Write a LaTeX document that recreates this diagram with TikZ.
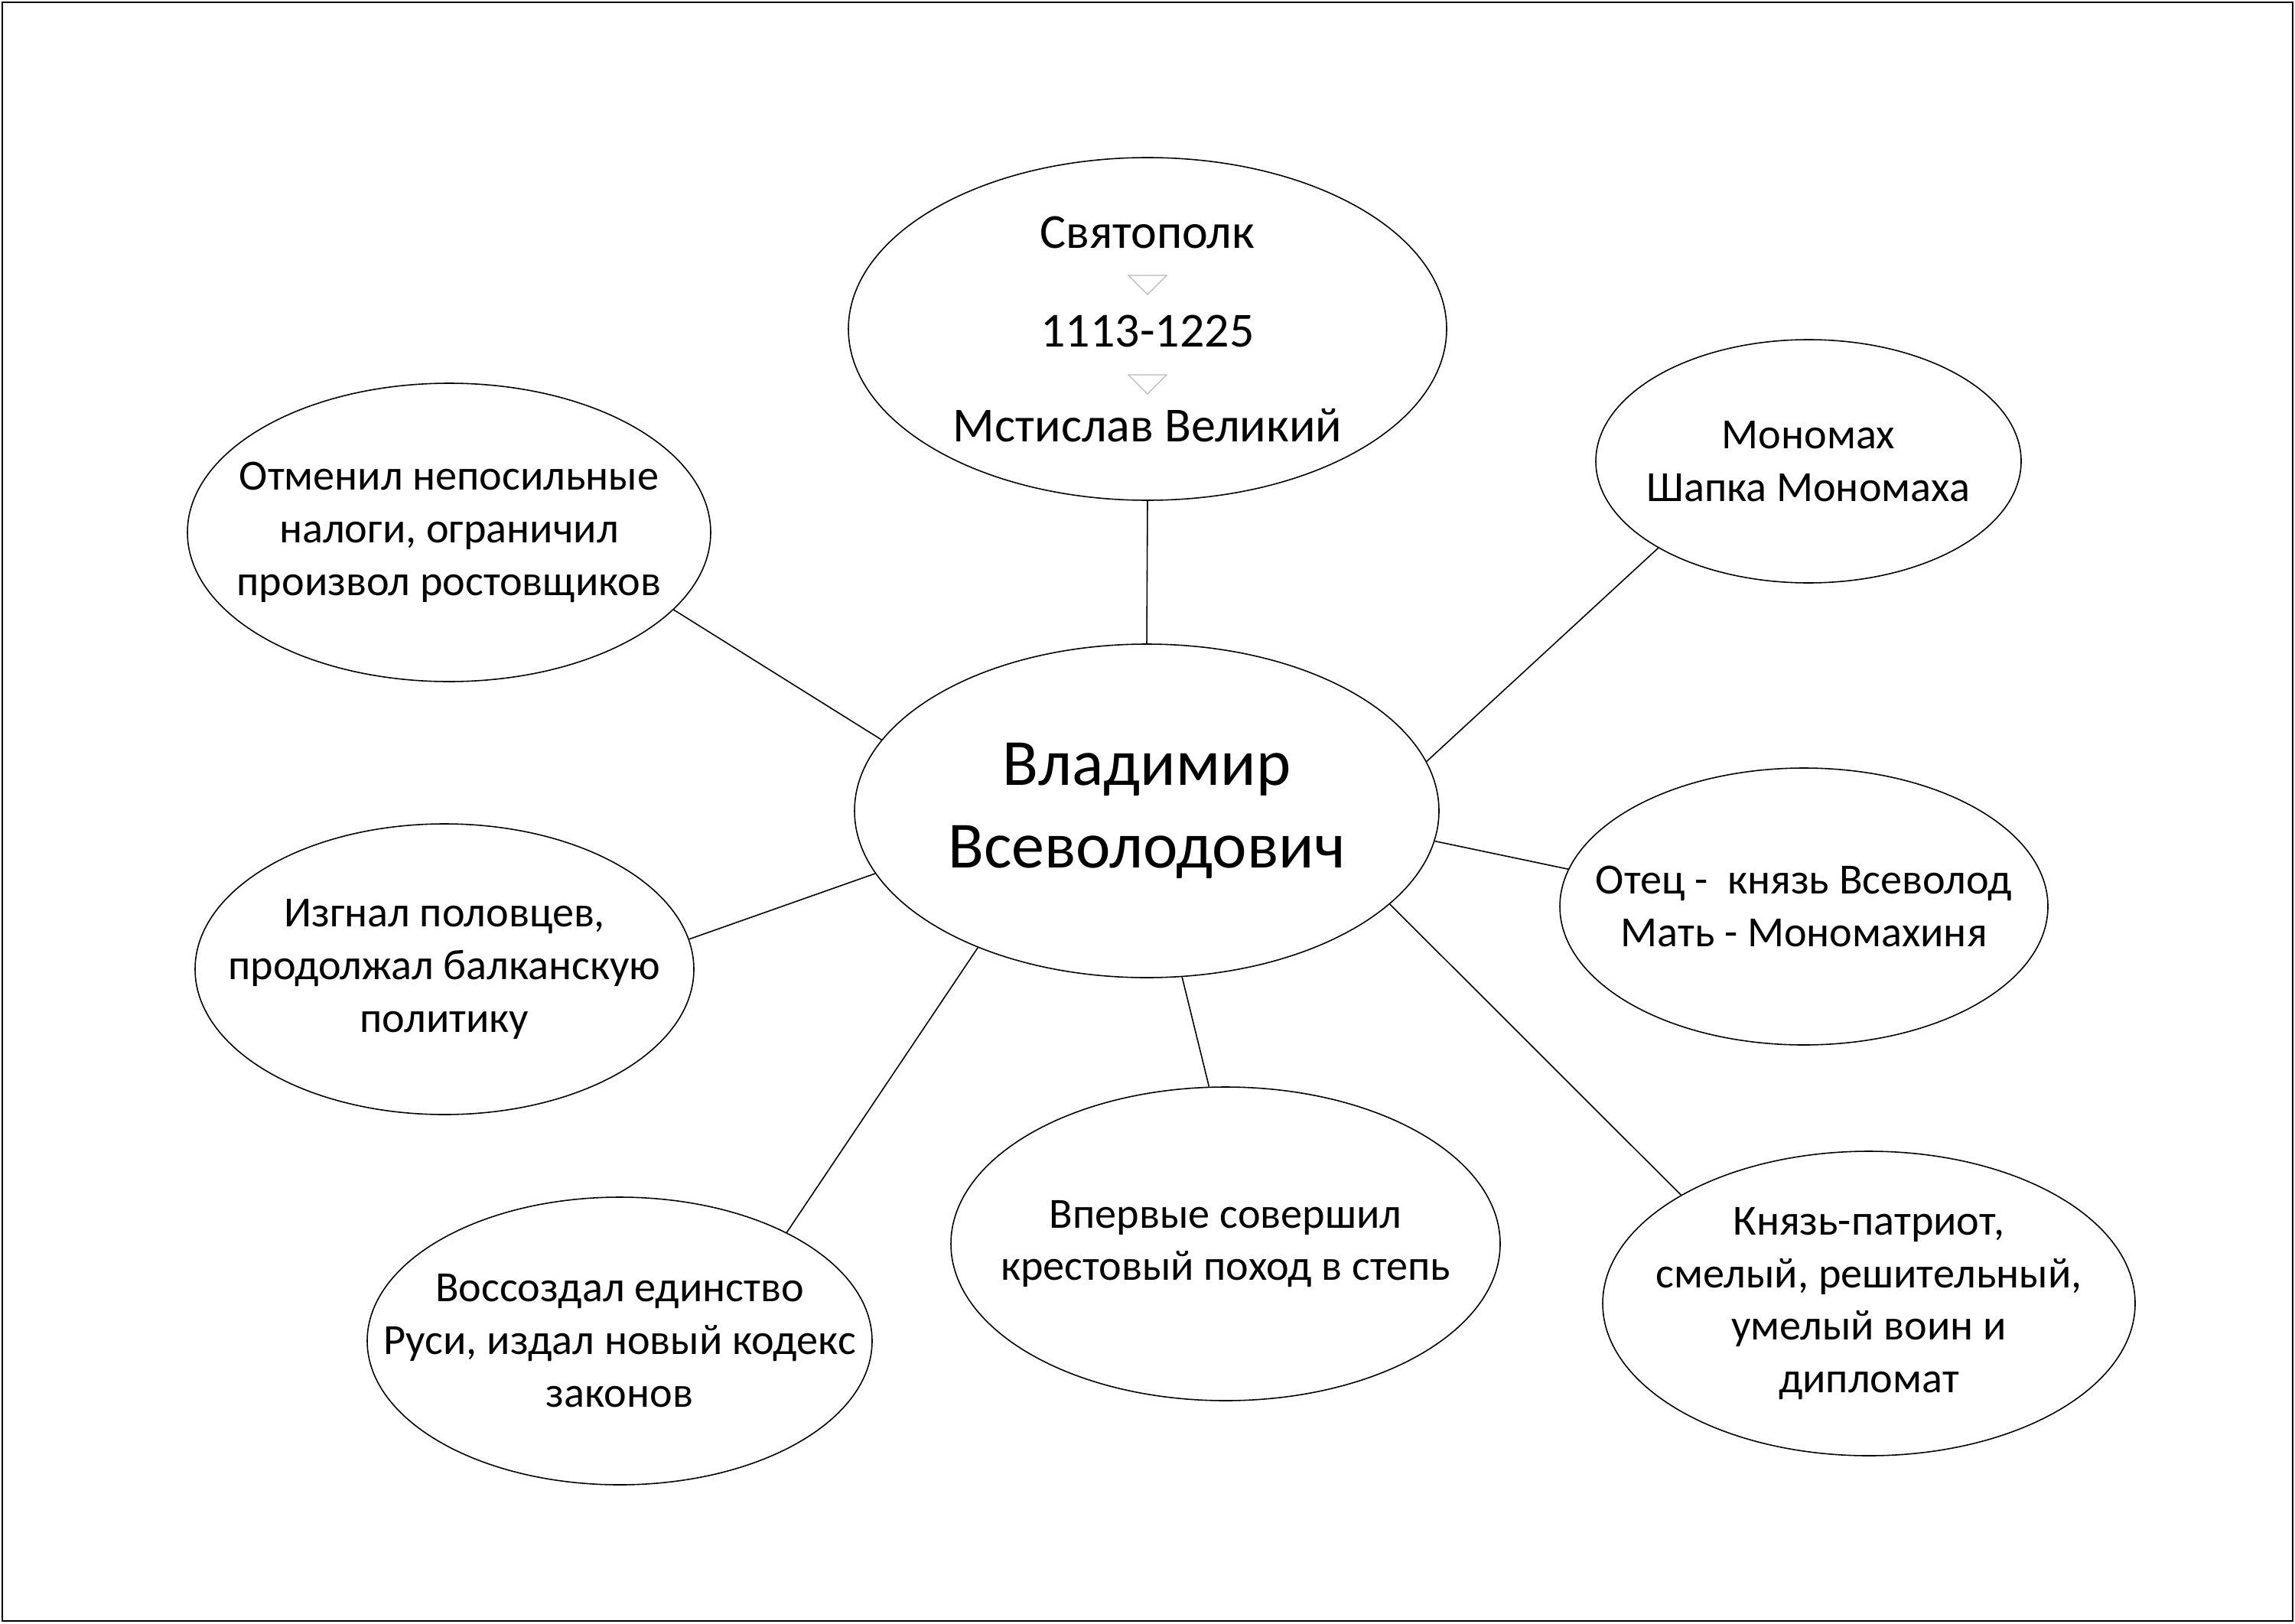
\documentclass[tikz,border=0pt]{standalone}
\usepackage{fontspec}
\setmainfont{Carlito}
\usepackage{tikz}
\usetikzlibrary{shapes.geometric}

\begin{document}
\begin{tikzpicture}[
        % овалы без текста, размер задаётся вручную
        bubble/.style={draw, ellipse, line width=0.45pt, inner sep=0pt},
        % подписи внутри овалов
        txt/.style={align=center, font=\fontsize{16}{19.6}\selectfont},
        % линии от центра
        link/.style={line width=0.45pt},
        % маленькие серые треугольники
        tri/.style={draw=gray!55, line width=0.35pt}
    ]

        % Рамка
        \useasboundingbox (0,0) rectangle (30,-21.22);
        \draw[line width=0.7pt] (0.03,-0.03) rectangle (29.97,-21.19);

        % Овалы
        \node[bubble, minimum width=7.64cm, minimum height=4.36cm] (vlad) at (14.99,-10.60) {};
        \node[bubble, minimum width=7.82cm, minimum height=4.48cm] (svyat) at (15.00,-4.30) {};
        \node[bubble, minimum width=6.84cm, minimum height=3.90cm] (otmenil) at (5.87,-6.96) {};
        \node[bubble, minimum width=5.56cm, minimum height=3.18cm] (monomah) at (23.64,-6.03) {};
        \node[bubble, minimum width=6.38cm, minimum height=3.62cm] (otec) at (23.58,-11.85) {};
        \node[bubble, minimum width=6.52cm, minimum height=3.80cm] (izgnal) at (5.81,-12.67) {};
        \node[bubble, minimum width=7.18cm, minimum height=4.10cm] (vpervye) at (16.02,-16.26) {};
        \node[bubble, minimum width=6.60cm, minimum height=3.76cm] (vossozd) at (8.10,-17.53) {};
        \node[bubble, minimum width=6.96cm, minimum height=3.98cm] (knyaz) at (24.43,-17.04) {};

        % Тексты
        \node[txt, font=\fontsize{24.5}{30.5}\selectfont] (t-vlad) at (vlad.center) {Владимир\\Всеволодович};
        \node[txt, font=\fontsize{18.2}{21}\selectfont, anchor=base] (t-svyat1) at ([yshift=1.05cm]svyat.center) {Святополк};
        \node[txt, font=\fontsize{18.2}{21}\selectfont, anchor=base] (t-svyat2) at ([yshift=-0.23cm]svyat.center) {1113-1225};
        \node[txt, font=\fontsize{18.2}{21}\selectfont, anchor=base] (t-svyat3) at ([yshift=-1.47cm]svyat.center) {Мстислав Великий};
        \node[txt] (t-otmenil) at (otmenil.center) {Отменил непосильные\\налоги, ограничил\\произвол ростовщиков};
        \node[txt] (t-monomah) at (monomah.center) {Мономах\\Шапка Мономаха};
        \node[txt] (t-otec) at (otec.center) {Отец - \ князь Всеволод\\Мать - Мономахиня};
        \node[txt] (t-izgnal) at (izgnal.center) {Изгнал половцев,\\продолжал балканскую\\политику};
        \node[txt] (t-vpervye) at (vpervye.center) {Впервые совершил\\крестовый поход в степь};
        \node[txt] (t-vossozd) at (vossozd.center) {Воссоздал единство\\Руси, издал новый кодекс\\законов};
        \node[txt] (t-knyaz) at (knyaz.center) {Князь-патриот,\\смелый, решительный,\\умелый воин и\\дипломат};

        % Треугольники между строками
        \draw[tri] ([shift={(-0.25,0.70)}]svyat.center) -- ++(0.5,0) -- ++(-0.25,-0.25) -- cycle;
        \draw[tri] ([shift={(-0.25,-0.60)}]svyat.center) -- ++(0.5,0) -- ++(-0.25,-0.25) -- cycle;

        % Линии
        \draw[link] (svyat.south) -- (vlad.north);
        \draw[link] (otmenil.-19) -- (vlad.165);
        \draw[link] (monomah.210) -- (vlad.10);
        \draw[link] (otec.171) -- (vlad.-6);
        \draw[link] (izgnal.7) -- (vlad.193);
        \draw[link] (vpervye.96) -- (vlad.-78);
        \draw[link] (vossozd.33) -- (vlad.219);
        \draw[link] (knyaz.150) -- (vlad.-21);

    \end{tikzpicture}
\end{document}
